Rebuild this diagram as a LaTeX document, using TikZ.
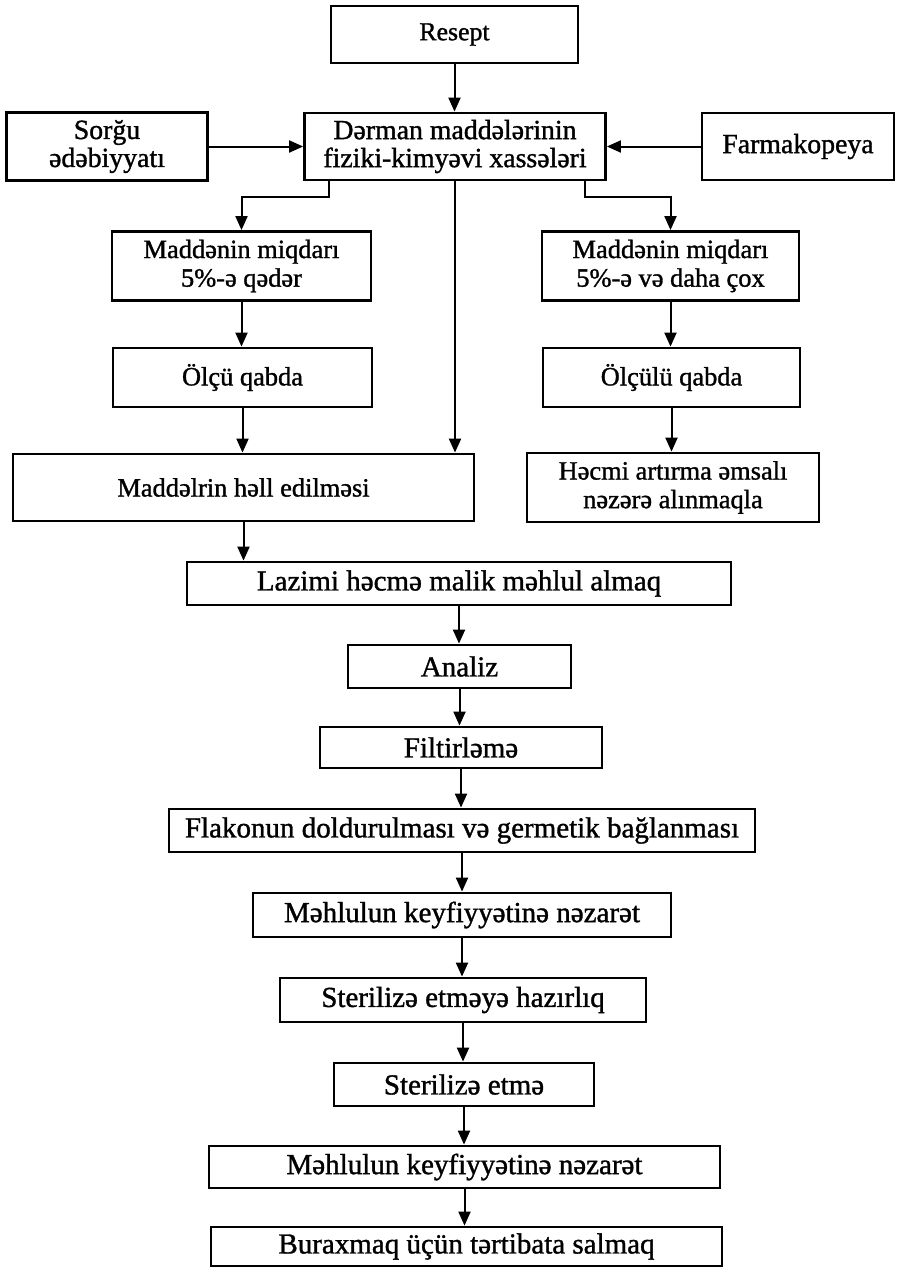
\documentclass[tikz,border=0pt]{standalone}
\usepackage{fontspec}
\setmainfont[FakeBold=1.2]{Liberation Serif}
\usetikzlibrary{arrows.meta}
\begin{document}
\begin{tikzpicture}[x=0.5pt,y=-0.5pt,
  box/.style n args={2}{draw, line width=1.4pt, minimum width=#1*0.5pt, minimum height=#2*0.5pt, inner sep=0pt, align=center},
  fR/.style={font=\fontsize{12.9}{14}\selectfont},
  fT/.style={font=\fontsize{13.9}{14}\selectfont},
  fM/.style={font=\fontsize{13.2}{14.3}\selectfont},
  fL/.style={font=\fontsize{14.5}{15}\selectfont},
  arr/.style={line width=1pt, -{Triangle[length=7pt,width=6pt]}}]
\useasboundingbox[fill=white] (0,0) rectangle (897,1268);

\node[box={247}{57}, fR] (resept) at (454.5,34.5) {Resept};
\node[box={301}{67}, fT] (dmx) at (455,146.5) {Dərman maddələrinin\\fiziki-kimyəvi xassələri};
\node[box={201}{68}, fT] (sorgu) at (107,146.5) {Sorğu\\ədəbiyyatı};
\node[box={192}{67}, fT] (farma) at (798,146.5) {Farmakopeya};
\node[box={259}{69}, fM] (lq) at (241.5,266) {Maddənin miqdarı\\5\%-ə qədər};
\node[box={257}{69}, fM] (rq) at (670.5,266) {Maddənin miqdarı\\5\%-ə və daha çox};
\node[box={259}{59}, fM] (lo) at (242.5,377.5) {Ölçü qabda};
\node[box={257}{59}, fM] (ro) at (671.5,377.5) {Ölçülü qabda};
\node[box={461}{67}, fM] (hell) at (243.5,487.5) {Maddəlrin həll edilməsi};
\node[box={292}{69}, fM] (hecm) at (673,487.5) {Həcmi artırma əmsalı\\nəzərə alınmaqla};
\node[box={544}{43}, fL] (lazimi) at (459,583.5) {Lazimi həcmə malik məhlul almaq};
\node[box={223}{43}, fL] (analiz) at (459.5,666.5) {Analiz};
\node[box={282}{41}, fL] (filt) at (461,747.5) {Filtirləmə};
\node[box={586}{43}, fL] (flak) at (462,830.5) {Flakonun doldurulması və germetik bağlanması};
\node[box={418}{44}, fL] (meh1) at (462,915) {Məhlulun keyfiyyətinə nəzarət};
\node[box={366}{44}, fL] (sthaz) at (463,1000) {Sterilizə etməyə hazırlıq};
\node[box={260}{43}, fL] (st) at (464,1084.5) {Sterilizə etmə};
\node[box={511}{42}, fL] (meh2) at (464.5,1167) {Məhlulun keyfiyyətinə nəzarət};
\node[box={511}{39}, fL] (bur) at (466.5,1246.5) {Buraxmaq üçün tərtibata salmaq};

\coordinate (jl) at (329,197);
\coordinate (jr) at (585,197);

\draw[arr] (resept.south) -- (resept.south |- dmx.north);
\draw[arr] (sorgu.east) -- (sorgu.east -| dmx.west);
\draw[arr] (farma.west) -- (farma.west -| dmx.east);
\draw[arr] (dmx.south -| jl) |- (lq.north |- jl) -- (lq.north);
\draw[arr] (dmx.south -| jr) |- (rq.north |- jr) -- (rq.north);
\draw[arr] (dmx.south) -- (dmx.south |- hell.north);
\draw[arr] (lq.south) -- (lq.south |- lo.north);
\draw[arr] (lo.south) -- (lo.south |- hell.north);
\draw[arr] (rq.south) -- (rq.south |- ro.north);
\draw[arr] (ro.south) -- (ro.south |- hecm.north);
\draw[arr] (hell.south) -- (hell.south |- lazimi.north);
\draw[arr] (lazimi.south) -- (lazimi.south |- analiz.north);
\draw[arr] (analiz.south) -- (analiz.south |- filt.north);
\draw[arr] (filt.south) -- (filt.south |- flak.north);
\draw[arr] (flak.south) -- (flak.south |- meh1.north);
\draw[arr] (meh1.south) -- (meh1.south |- sthaz.north);
\draw[arr] (sthaz.south) -- (sthaz.south |- st.north);
\draw[arr] (st.south) -- (st.south |- meh2.north);
\draw[arr] (meh2.south) -- (meh2.south |- bur.north);
\end{tikzpicture}
\end{document}
